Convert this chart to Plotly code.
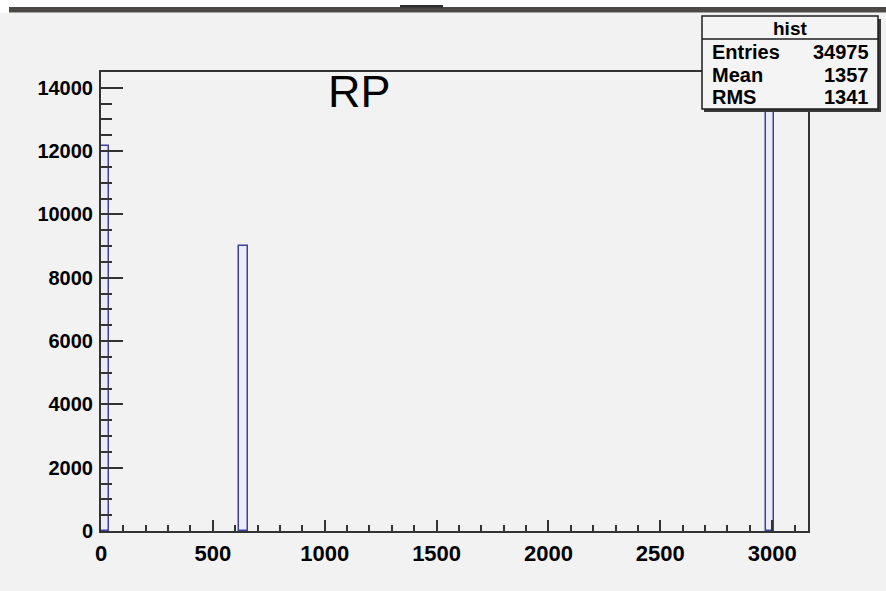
import plotly.graph_objects as go

# ---- data ----
bin_centers = [18, 637, 2991]
bin_widths = [36, 37, 35]
bin_counts = [12150, 9000, 13825]

x_range = [0, 3160]
y_range = [0, 14500]
x_tickvals = [0, 500, 1000, 1500, 2000, 2500, 3000]
y_tickvals = [0, 2000, 4000, 6000, 8000, 10000, 12000, 14000]

title_text = "RP"
stat_title = "hist"
stat_names = ["Entries", "Mean", "RMS"]
stat_values = ["34975", "1357", "1341"]

# ---- layout geometry (pixels) ----
W, H = 886, 591
L, R, T, B = 101, 78, 72, 60
PW, PH = W - L - R, H - T - B


def px(x):
    return (x - L) / PW


def py(y):
    return (H - B - y) / PH


BG = "#f2f2f2"
AX = "#333333"
FONT = "Liberation Sans, Arial, sans-serif"

fig = go.Figure()
fig.add_trace(go.Bar(
    x=bin_centers, y=bin_counts, width=bin_widths,
    marker=dict(color="#ececf8", line=dict(color="#3f3f9f", width=1.5)),
    showlegend=False, hoverinfo="x+y",
))

shapes = []
# top window strip
shapes.append(dict(type="rect", xref="paper", yref="paper", x0=px(0), x1=px(W), y0=py(0), y1=py(13),
                   fillcolor="#ffffff", line=dict(width=0), layer="above"))
shapes.append(dict(type="rect", xref="paper", yref="paper", x0=px(9), x1=px(W), y0=py(7), y1=py(12.5),
                   fillcolor="#4b4945", line=dict(width=0), layer="above"))
shapes.append(dict(type="rect", xref="paper", yref="paper", x0=px(400), x1=px(443), y0=py(5), y1=py(7.5),
                   fillcolor="#2e2e2e", line=dict(width=0), layer="above"))
# stat box shadow + box
shapes.append(dict(type="rect", xref="paper", yref="paper", x0=px(704), x1=px(881), y0=py(19), y1=py(112),
                   fillcolor="#3a3a3a", line=dict(width=0), layer="above"))
shapes.append(dict(type="rect", xref="paper", yref="paper", x0=px(702), x1=px(878), y0=py(16), y1=py(109),
                   fillcolor="#f4f4f4", line=dict(color="#1e1e1e", width=1.5), layer="above"))
shapes.append(dict(type="line", xref="paper", yref="paper", x0=px(702), x1=px(878), y0=py(39), y1=py(39),
                   line=dict(color="#1e1e1e", width=1.5), layer="above"))

annotations = []
annotations.append(dict(text=title_text, xref="paper", yref="paper", x=px(359), y=py(91),
                        xanchor="center", yanchor="middle", showarrow=False,
                        font=dict(family=FONT, size=45, color="#000000")))
annotations.append(dict(text=stat_title, xref="paper", yref="paper", x=px(790), y=py(28),
                        xanchor="center", yanchor="middle", showarrow=False,
                        font=dict(family=FONT, size=19, color="#000000", weight="bold")))
row_y = [52, 74.5, 97]
for name, val, yy in zip(stat_names, stat_values, row_y):
    annotations.append(dict(text=name, xref="paper", yref="paper", x=px(710), y=py(yy),
                            xanchor="left", yanchor="middle", showarrow=False,
                            font=dict(family=FONT, size=20, color="#000000", weight="bold")))
    annotations.append(dict(text=val, xref="paper", yref="paper", x=px(871), y=py(yy),
                            xanchor="right", yanchor="middle", showarrow=False,
                            font=dict(family=FONT, size=20, color="#000000", weight="bold")))

fig.update_layout(
    width=W, height=H,
    margin=dict(l=L, r=R, t=T, b=B, pad=0),
    paper_bgcolor=BG, plot_bgcolor=BG,
    bargap=0,
    shapes=shapes, annotations=annotations,
    font=dict(family=FONT, color="#000000"),
    xaxis=dict(range=x_range, tickvals=x_tickvals, tickformat="d", ticks="inside", ticklen=11, tickwidth=1.5,
               tickcolor=AX, showline=True, linecolor=AX, linewidth=2, mirror=True,
               showgrid=False, zeroline=False, ticklabelstandoff=2,
               tickfont=dict(family=FONT, size=22, color="#000000", weight="bold"),
               minor=dict(dtick=100, tick0=0, ticks="inside", ticklen=6, tickwidth=1.5,
                          tickcolor=AX, showgrid=False)),
    yaxis=dict(range=y_range, tickvals=y_tickvals, tickformat="d", ticks="inside", ticklen=22, tickwidth=1.5,
               tickcolor=AX, showline=True, linecolor=AX, linewidth=2, mirror=True,
               showgrid=False, zeroline=False, ticklabelstandoff=2,
               tickfont=dict(family=FONT, size=20, color="#000000", weight="bold"),
               minor=dict(dtick=500, tick0=0, ticks="inside", ticklen=11, tickwidth=1.5,
                          tickcolor=AX, showgrid=False)),
)

fig.write_html("out.html", config={"displayModeBar": False},
               post_script="document.body.style.margin='0px';document.body.style.padding='0px';")
